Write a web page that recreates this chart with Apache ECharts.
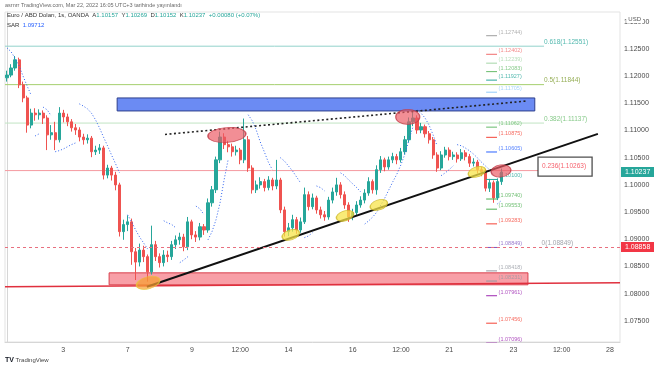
<!DOCTYPE html>
<html><head><meta charset="utf-8">
<script src="https://cdn.jsdelivr.net/npm/echarts@6/dist/echarts.min.js"></script>
<style>html,body{margin:0;padding:0;background:#fff}#c{width:654px;height:366px}</style>
</head><body><div id="c"></div>
<script>
// ---- time axis: 3-hour bars, weekends removed (March 2022) ----
const tradingDays = [1,2,3,4,7,8,9,10,11,14,15,16,17,18,21,22,23,24,25,28];
const barHours = [0,3,6,9,12,15,18,21];
const tickLabels = {'3 00:00':'3','7 00:00':'7','9 00:00':'9','10 12:00':'12:00','14 00:00':'14','16 00:00':'16','17 12:00':'12:00','21 00:00':'21','23 00:00':'23','24 12:00':'12:00','28 00:00':'28'};

// ---- EUR/USD OHLC (3h bars from Mar 1 06:00) ----
const opens = [1.1197,1.1202,1.1215,1.1230,1.1184,1.1160,1.1110,1.1132,1.1129,1.1132,
1.1123,1.1092,1.1096,1.1083,1.1132,1.1125,1.1116,1.1105,1.1101,1.1088,
1.1083,1.1086,1.1061,1.1064,1.1068,1.1018,1.1031,1.1018,1.1000,1.0914,
1.0927,1.0932,1.0877,1.0858,1.0880,1.0868,1.0840,1.0890,1.0868,1.0857,
1.0871,1.0868,1.0890,1.0899,1.0904,1.0886,1.0932,1.0908,1.0904,1.0923,
1.0917,1.0967,1.0991,1.1046,1.1088,1.1074,1.1070,1.1061,1.1064,1.1046,
1.1083,1.1031,1.0991,1.1000,1.1006,1.0995,1.1009,1.0998,1.1009,1.0954,
1.0914,1.0921,1.0936,1.0917,1.0932,1.0982,1.0960,1.0976,1.0954,1.0945,
1.0941,1.0972,1.0987,1.1000,1.0982,1.0963,1.0941,1.0949,1.0963,1.0972,
1.0985,1.1006,1.0991,1.1028,1.1046,1.1033,1.1046,1.1052,1.1046,1.1061,
1.1083,1.1116,1.1123,1.1101,1.1107,1.1094,1.1083,1.1055,1.1031,1.1055,
1.1064,1.1052,1.1055,1.1048,1.1059,1.1052,1.1040,1.1042,1.1028,1.1024,
1.0994,1.1004,1.0976,1.1006];
const closes = [1.1202,1.1215,1.1230,1.1184,1.1160,1.1110,1.1132,1.1129,1.1132,1.1123,
1.1092,1.1096,1.1083,1.1132,1.1125,1.1116,1.1105,1.1101,1.1088,1.1083,
1.1086,1.1061,1.1064,1.1068,1.1018,1.1031,1.1018,1.1000,1.0914,1.0927,
1.0932,1.0877,1.0858,1.0880,1.0868,1.0840,1.0890,1.0868,1.0857,1.0871,
1.0868,1.0890,1.0899,1.0904,1.0886,1.0932,1.0908,1.0904,1.0923,1.0917,
1.0967,1.0991,1.1046,1.1088,1.1074,1.1070,1.1061,1.1064,1.1046,1.1083,
1.1031,1.0991,1.1000,1.1006,1.0995,1.1009,1.0998,1.1009,1.0954,1.0914,
1.0921,1.0936,1.0917,1.0932,1.0982,1.0960,1.0976,1.0954,1.0945,1.0941,
1.0972,1.0987,1.1000,1.0982,1.0963,1.0941,1.0949,1.0963,1.0972,1.0985,
1.1006,1.0991,1.1028,1.1046,1.1033,1.1046,1.1052,1.1046,1.1061,1.1083,
1.1116,1.1123,1.1101,1.1107,1.1094,1.1083,1.1055,1.1031,1.1055,1.1064,
1.1052,1.1055,1.1048,1.1059,1.1052,1.1040,1.1042,1.1028,1.1024,1.0994,
1.1004,1.0976,1.1006,1.10237];
const lows = [1.1190,1.1198,1.1210,1.1178,1.1152,1.1096,1.1104,1.1118,1.1120,1.1112,
1.1064,1.1083,1.1064,1.1078,1.1115,1.1108,1.1098,1.1092,1.1080,1.1074,
1.1076,1.1051,1.1055,1.1057,1.1010,1.1012,1.1008,1.0990,1.0905,1.0899,
1.0915,1.0853,1.0825,1.0850,1.0858,1.0822,1.0835,1.0860,1.0848,1.0850,
1.0858,1.0862,1.0882,1.0890,1.0878,1.0880,1.0900,1.0895,1.0898,1.0908,
1.0912,1.0960,1.0985,1.1040,1.1066,1.1060,1.1052,1.1054,1.1038,1.1040,
1.1024,1.0984,1.0985,1.0993,1.0988,1.0990,1.0990,1.0992,1.0948,1.0905,
1.0906,1.0914,1.0910,1.0912,1.0928,1.0953,1.0955,1.0947,1.0938,1.0934,
1.0936,1.0966,1.0980,1.0975,1.0956,1.0932,1.0935,1.0944,1.0958,1.0966,
1.0980,1.0984,1.0982,1.1022,1.1025,1.1028,1.1040,1.1038,1.1041,1.1056,
1.1078,1.1108,1.1094,1.1095,1.1087,1.1076,1.1048,1.1024,1.1027,1.1050,
1.1045,1.1046,1.1041,1.1044,1.1045,1.1033,1.1034,1.1021,1.1016,1.0988,
1.0987,1.0967,1.0972,1.1000];
const highs = [1.1210,1.1222,1.1237,1.1234,1.1190,1.1164,1.1140,1.1141,1.1139,1.1137,
1.1128,1.1110,1.1116,1.1143,1.1138,1.1131,1.1121,1.1112,1.1106,1.1094,
1.1093,1.1090,1.1072,1.1075,1.1072,1.1037,1.1035,1.1024,1.1004,1.0936,
1.0944,1.0938,1.0884,1.0892,1.0888,1.0872,1.0925,1.0897,1.0874,1.0880,
1.0879,1.0897,1.0907,1.0912,1.0910,1.0941,1.0936,1.0915,1.0930,1.0928,
1.0975,1.0998,1.1052,1.1098,1.1095,1.1081,1.1076,1.1072,1.1068,1.1122,
1.1090,1.1036,1.1008,1.1014,1.1011,1.1016,1.1013,1.1046,1.1013,1.0960,
1.0930,1.0945,1.0941,1.0940,1.0995,1.0988,1.0984,1.0980,1.0960,1.0952,
1.0978,1.0995,1.1013,1.1005,1.0988,1.0968,1.0956,1.0970,1.0979,1.0992,
1.1014,1.1010,1.1036,1.1053,1.1050,1.1052,1.1059,1.1057,1.1068,1.1090,
1.1124,1.1137,1.1128,1.1114,1.1111,1.1099,1.1088,1.1060,1.1062,1.1070,
1.1069,1.1061,1.1060,1.1066,1.1064,1.1057,1.1049,1.1046,1.1033,1.1029,
1.1011,1.1008,1.1012,1.1030];

// ---- Parabolic SAR (null = not drawn) ----
const sar = [1.1252,1.1245,1.1233,1.1219,1.1200,1.1182,1.1165,1.1090,1.1094,1.1143,
1.1138,1.1127,1.1061,1.1063,1.1066,1.1070,1.1074,1.1077,1.1149,1.1145,
1.1140,1.1132,1.1120,1.1105,1.1088,1.1072,1.1055,1.1039,1.1022,null,
1.0945,1.0932,1.0917,1.0904,1.0893,1.0882,null,null,null,1.0934,
1.0930,1.0927,1.0921,1.0857,1.0862,1.0868,null,1.0961,1.0956,1.0945,
1.0899,1.0914,1.0936,1.0967,1.1009,1.1046,null,null,null,null,
1.1129,1.1118,1.1101,1.1079,1.1061,1.1042,1.1028,null,1.1050,1.1044,
1.1035,1.1026,1.1015,1.1004,1.0903,1.0906,1.0912,1.0998,1.0995,1.0989,
null,null,null,1.1022,1.1017,1.1009,1.1002,1.0995,1.0987,1.0928,
1.0934,1.0941,1.0950,1.0963,1.0976,1.0991,1.1006,1.1020,1.1037,1.1057,
1.1083,1.1107,1.1138,1.1132,1.1123,1.1110,1.1092,1.1072,1.1017,1.1022,
1.1028,1.1035,1.1074,1.1072,1.1068,1.1063,1.1057,1.1050,1.1042,1.1035,
1.1028,1.1018,1.0965,1.09712];

// ---- Fibonacci retracement ----
const fibLevels = ['0.618','0.5','0.382','0.236','0'];
const fibPrices = [1.12551,1.11844,1.11137,1.10263,1.08849];
// ---- fib extension tags ----
const extPrices = [1.12744,1.12402,1.12239,1.12083,1.11927,1.11705,1.11062,1.10875,1.10605,1.10100,1.09740,1.09553,1.09283,1.08849,1.08418,1.08231,1.07961,1.07456,1.07096];
// ---- prices on axis ----
const lastPrice = 1.10237;
const markedPrice = 1.08858;
// ---- drawings (bar index, price) ----
const supportZone = [[25.4,1.08382],[129.6,1.08162]];
const resistZone = [[27.4,1.11599],[131.3,1.11360]];
const supportLine = [[-0.5,1.08125],[152.5,1.08198]];
const risingTrend = [[34.8,1.08125],[147.0,1.10938]];
const highsTrend = [[39.3,1.10928],[129.4,1.11544]];
const lowTouch = [[35.1,1.08199]];
const trendTouches = [[70.6,1.09081],[84.1,1.0943],[92.5,1.09632],[116.9,1.10239]];
const highTouches = [[54.7,1.10919],[99.7,1.1125],[122.9,1.10257]];

// ---------- build ----------
const categories = [];
tradingDays.forEach(d => barHours.forEach(h => {
  if (d === 1 && h < 6) return;
  categories.push(d + ' ' + String(h).padStart(2,'0') + ':00');
}));
const cats = categories.slice(0,153);
const candleData = opens.map((o,i)=>[o, closes[i], lows[i], highs[i]]);
const sarAbove = sar.map((v,i)=> v!=null && v>closes[i] ? v : null);
const sarBelow = sar.map((v,i)=> v!=null && v<closes[i] ? v : null);

const FONT = 'Liberation Sans, Arial, sans-serif';
const fibStyle = [
  {line:'#93d2cb', text:'#26a69a', end:133.6},
  {line:'#a5cf6e', text:'#7a9a2a', end:133.6},
  {line:'#c2e4c3', text:'#66bb6a', end:133.6},
  {line:'#f59aa1', text:'#f23645', end:132.1, box:true},
  {line:null, text:'#8a8d96', end:133.0}
];
const extColors = ['#9e9e9e','#f06b6b','#a5d6a7','#66bb6a','#26a69a','#90caf9','#66bb6a','#f44336','#2962ff','#26a69a','#4caf50','#4caf50','#f44336','#7e57c2','#9598a1','#9598a1','#9c27b0','#f44336','#9c27b0'];

const series = [];
// fib lines
fibPrices.forEach((p,k)=>{
  const st = fibStyle[k];
  if (st.line) series.push({type:'line', xAxisIndex:1, yAxisIndex:0, silent:true, symbol:'none', z:1,
    data:[[-0.5,p],[st.end,p]], lineStyle:{color:st.line, width:1}});
  series.push({type:'scatter', xAxisIndex:1, yAxisIndex:0, silent:true, symbolSize:0, z:6, clip:false,
    data:[[st.end,p]],
    label:{show:true, position:'right', distance:0, offset:[0,-4],
      formatter: fibLevels[k]+'('+p.toFixed(5)+')', color:st.text, fontSize:6.5, fontFamily:FONT,
      borderColor: st.box?'#222':null, borderWidth: st.box?1.3:0, padding: st.box?[4,6,8,4]:0}});
});
// extension tags
extPrices.forEach((p,k)=>{
  series.push({type:'line', xAxisIndex:1, yAxisIndex:0, silent:true, symbol:'none', z:6,
    data:[[119.2,p],[121.9,p]], lineStyle:{color:extColors[k], width:1}});
  series.push({type:'scatter', xAxisIndex:1, yAxisIndex:0, silent:true, symbolSize:0, z:6, clip:false,
    data:[[122.3,p]],
    label:{show:true, position:'right', distance:0, offset:[0,-3.5], formatter:'('+p.toFixed(5)+')',
      color:extColors[k], fontSize:5.5, fontFamily:FONT}});
});
// zones
series.push({type:'line', xAxisIndex:1, yAxisIndex:0, data:[], silent:true, z:3,
  markArea:{silent:true, data:[
    [{coord:supportZone[0], itemStyle:{color:'rgba(242,80,95,0.55)', borderColor:'#d9404d', borderWidth:1}},{coord:supportZone[1]}],
    [{coord:resistZone[0], itemStyle:{color:'rgba(70,110,240,0.8)', borderColor:'#2d3f8c', borderWidth:1}},{coord:resistZone[1]}]
  ]}});
// candles + price tags on the axis
series.push({type:'candlestick', xAxisIndex:0, yAxisIndex:0, data:candleData, barWidth:'65%', z:2,
  itemStyle:{color:'#26a69a', color0:'#ef5350', borderColor:'#26a69a', borderColor0:'#ef5350', borderWidth:1},
  markLine:{silent:true, symbol:['none','none'], animation:false, precision:6, z:9, data:[
    {yAxis:markedPrice, lineStyle:{color:'#e8707f', type:[3,3], width:1}, label:{show:true, position:'end', distance:1, formatter:markedPrice.toFixed(5),
      backgroundColor:'#f23645', color:'#fff', fontSize:7, fontFamily:FONT, padding:[2,4,1,4]}},
    {yAxis:lastPrice, lineStyle:{color:'rgba(0,0,0,0)', width:1}, label:{show:true, position:'end', distance:1, formatter:lastPrice.toFixed(5),
      backgroundColor:'#26a69a', color:'#fff', fontSize:7, fontFamily:FONT, padding:[2,4,1,4]}}
  ]}});
// SAR
[sarAbove, sarBelow].forEach(arr => series.push({type:'line', xAxisIndex:0, yAxisIndex:0, data:arr, symbol:'none',
  silent:true, connectNulls:false, z:4, lineStyle:{color:'#2f63f0', width:1, type:[1,2]}}));
// trend lines
series.push({type:'line', xAxisIndex:1, yAxisIndex:0, data:supportLine, symbol:'none', silent:true, z:4, lineStyle:{color:'#e0303e', width:1.5}});
series.push({type:'line', xAxisIndex:1, yAxisIndex:0, data:risingTrend, symbol:'none', silent:true, z:7, lineStyle:{color:'#111', width:2}});
series.push({type:'line', xAxisIndex:1, yAxisIndex:0, data:highsTrend, symbol:'none', silent:true, z:7, lineStyle:{color:'#222', width:1.6, type:[2,2.5]}});
// ellipses
series.push({type:'scatter', xAxisIndex:1, yAxisIndex:0, data:lowTouch, silent:true, z:8, symbol:'circle', symbolSize:[24,12], symbolRotate:15,
  itemStyle:{color:'rgba(246,160,50,0.9)', borderColor:'#e6c53a', borderWidth:1}});
series.push({type:'scatter', xAxisIndex:1, yAxisIndex:0, data:trendTouches, silent:true, z:8, symbol:'circle', symbolSize:[18,10], symbolRotate:18,
  itemStyle:{color:'rgba(247,228,70,0.92)', borderColor:'#cdb92c', borderWidth:1}});
series.push({type:'scatter', xAxisIndex:1, yAxisIndex:0, silent:true, z:8, symbol:'circle',
  data:[{value:highTouches[0], symbolSize:[38,15], symbolRotate:4},{value:highTouches[1], symbolSize:[24,15], symbolRotate:0},{value:highTouches[2], symbolSize:[20,12], symbolRotate:8}],
  itemStyle:{color:'rgba(236,90,100,0.85)', borderColor:'#c23a46', borderWidth:1}});

const option = {
  animation:false,
  backgroundColor:'#fff',
  grid:{left:5, right:34, top:12, bottom:24, show:true, borderColor:'#e3e3e3', borderWidth:1},
  xAxis:[
    {type:'category', data:cats, boundaryGap:true,
      axisLine:{show:true, lineStyle:{color:'#d6d6d6'}}, axisTick:{show:false}, splitLine:{show:false},
      axisLabel:{interval:(i,v)=> v in tickLabels, formatter:v=> tickLabels[v]||'', color:'#4a4a4a', fontSize:7, fontFamily:FONT, margin:5, hideOverlap:false}},
    {type:'value', min:-0.5, max:152.5, show:false}
  ],
  yAxis:[{type:'value', position:'right', min:1.0711, max:1.1318, splitNumber:12, scale:true,
    axisLine:{show:true, lineStyle:{color:'#d6d6d6'}}, axisTick:{show:false}, splitLine:{show:false},
    axisLabel:{formatter:v=>v.toFixed(5), color:'#4a4a4a', fontSize:7, fontFamily:FONT, margin:4, showMinLabel:false, showMaxLabel:false}}],
  series:series,
  graphic:[
    {type:'text', left:5, top:2, style:{text:'asrnrr TradingView.com, Mar 22, 2022 16:05 UTC+3 tarihinde yayınlandı', fill:'#6a6a6a', fontSize:5.5, fontFamily:FONT}},
    {type:'text', left:7, top:12, z:20, style:{text:'Euro / ABD Doları, 1s, OANDA  A{v|1.10157}  Y{v|1.10269}  D{v|1.10152}  K{v|1.10237}  {v|+0.00080 (+0.07%)}',
      fill:'#333', fontSize:6, fontFamily:FONT, rich:{v:{fill:'#26a69a', fontSize:6, fontFamily:FONT}}}},
    {type:'text', left:7, top:22, z:20, style:{text:'SAR  {b|1.09712}', fill:'#333', fontSize:6, fontFamily:FONT, rich:{b:{fill:'#2962ff', fontSize:6, fontFamily:FONT}}}},
    {type:'text', right:11, top:15, z:20, style:{text:'USD', fill:'#555', fontSize:6, fontFamily:FONT, backgroundColor:'#fff', padding:[1,2]}},
    {type:'text', left:5, top:357, style:{text:'{l|TV} TradingView', fill:'#444', fontSize:6, fontFamily:FONT, rich:{l:{fontWeight:'bold', fill:'#131722', fontSize:7, fontFamily:FONT}}}}
  ]
};
const chart = echarts.init(document.getElementById('c'));
chart.setOption(option);
</script></body></html>
